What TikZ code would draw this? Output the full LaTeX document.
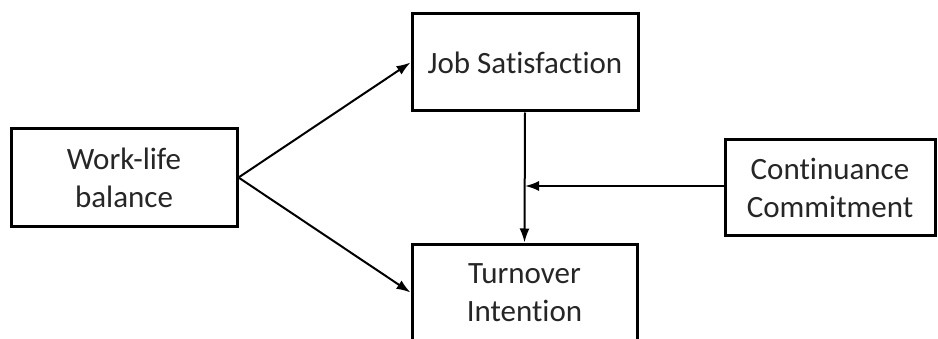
\documentclass[tikz,border=0pt]{standalone}
\usepackage{fontspec}
\setmainfont{Carlito}[Ligatures={NoCommon}]
\usetikzlibrary{arrows.meta}
\begin{document}
\begin{tikzpicture}[x=1pt,y=1pt,
  box/.style={draw=black, line width=3pt, fill=white, inner sep=0pt,
    align=center, text=black!85, font=\fontsize{31}{38}\selectfont},
  conn/.style={line width=2pt, -{Latex[length=14pt,width=10pt]}}]
\useasboundingbox (0,0) rectangle (938,338);
\clip (0,0) rectangle (938,338);
\node[box, minimum width=226pt, minimum height=97pt] (wl) at (124,160.5) {Work-life\\balance};
\node[box, minimum width=226pt, minimum height=97pt] (js) at (525,275.5) {Job Satisfaction};
\node[box, minimum width=225pt, minimum height=97pt] (ti) at (524.5,45.5) {Turnover\\Intention};
\node[box, minimum width=210pt, minimum height=95pt] (cc) at (830,150.5) {Continuance\\Commitment};
\coordinate (m) at (js.south |- 0,152);
\draw[conn] (wl.east) -- (js.west);
\draw[conn] (wl.east) -- (ti.west);
\draw[conn] (js.south) -- (ti.north);
\draw[conn] (cc.west |- m) -- (m);
\end{tikzpicture}
\end{document}
